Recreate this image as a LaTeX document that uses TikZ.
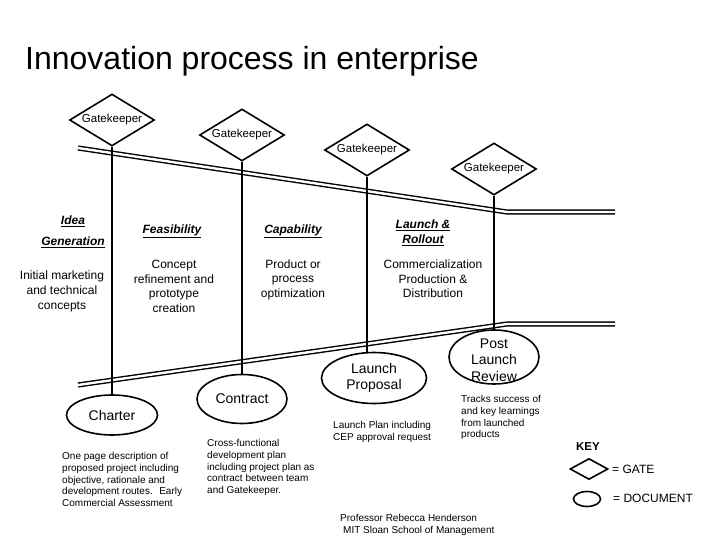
\documentclass[tikz,border=0pt]{standalone}
\usepackage{fontspec}
\setmainfont{Liberation Sans}
\usetikzlibrary{shapes.geometric}

\begin{document}
\begin{tikzpicture}[x=1pt, y=-1pt,
    gatebox/.style={diamond, draw, line width=1.6pt, inner sep=0pt, shape aspect=1.65, minimum width=85pt, minimum height=52pt, font=\fontsize{11.5}{13}\selectfont},
    docbox/.style={ellipse, draw, line width=1.6pt, inner sep=0pt, font=\fontsize{14}{16.5}\selectfont, align=center},
    phasetext/.style={font=\bfseries\itshape\fontsize{12}{15}\selectfont, align=center},
    steptext/.style={font=\fontsize{12}{14.5}\selectfont, align=center},
    notetext/.style={font=\fontsize{10}{11.8}\selectfont, align=left, anchor=north west, inner sep=0pt},
    rail/.style={line width=1.4pt, double distance=2.4pt},
    stem/.style={line width=1.6pt}]
    \useasboundingbox (0,0) rectangle (720,540);

    % Title
    \node (title) [anchor=base west, inner sep=0pt, font=\fontsize{32}{38}\selectfont] at (25,70) {Innovation process in enterprise};

    % Rails
    \coordinate (t0) at (78,148);
    \coordinate (t1) at (507,212);
    \coordinate (t2) at (615,212);
    \coordinate (b0) at (78,385);
    \coordinate (b1) at (507,324);
    \coordinate (b2) at (615,324);
    \draw[rail] (t0) -- (t1) -- (t2);
    \draw[rail] (b0) -- (b1) -- (b2);

    % Gates
    \node (gk1) [gatebox] at (112,120) {Gatekeeper};
    \node (gk2) [gatebox] at (242,135) {Gatekeeper};
    \node (gk3) [gatebox] at (367,150) {Gatekeeper};
    \node (gk4) [gatebox] at (494,169) {Gatekeeper};

    % Documents
    \node (charter) [docbox, minimum width=91pt, minimum height=40pt] at (112,415) {Charter};
    \node (contract) [docbox, minimum width=90pt, minimum height=49pt] at (242,399) {Contract};
    \node (proposal) [docbox, minimum width=105pt, minimum height=51pt] at (374,378) {Launch\\Proposal};
    \node (review) [docbox, minimum width=90pt, minimum height=54pt] at (494,357) {};
    \node (reviewtext) [align=center, inner sep=0pt, font=\fontsize{14}{16.5}\selectfont] at ([yshift=-3pt]review.center) {Post\\Launch\\Review};

    % Stems
    \draw[stem] (gk1.south) -- (charter.north);
    \draw[stem] (gk2.south) -- (contract.north);
    \draw[stem] (gk3.south) -- (gk3.south |- proposal.north);
    \draw[stem] (gk4.south) -- (review.north);

    % Phases
    \node (idea) [phasetext, font=\bfseries\itshape\fontsize{12}{21}\selectfont] at (73,231.5) {\underline{Idea}\\\underline{Generation}};
    \node (feas) [phasetext] at (172,231) {\underline{Feasibility}};
    \node (capab) [phasetext] at (293,231) {\underline{Capability}};
    \node (launch) [phasetext] at (423,232.5) {\underline{Launch \&}\\\underline{Rollout}};

    \node (ideatext) [steptext, font=\fontsize{12}{15}\selectfont] at (62,291) {Initial marketing\\and technical\\concepts};
    \node (feastext) [steptext] at (174,286.5) {Concept\\refinement and\\prototype\\creation};
    \node (capabtext) [steptext] at (293,279.5) {Product or\\process\\optimization};
    \node (launchtext) [steptext] at (433,279) {Commercialization\\Production \&\\Distribution};

    % Notes
    \node (charternote) [notetext] at (62,452) {One page description of\\proposed project including\\objective, rationale and\\development routes.~ Early\\Commercial Assessment};
    \node (contractnote) [notetext] at (207,439) {Cross-functional\\development plan\\including project plan as\\contract between team\\and Gatekeeper.};
    \node (proposalnote) [notetext] at (333,421) {Launch Plan including\\CEP approval request};
    \node (reviewnote) [notetext] at (461,395) {Tracks success of\\and key learnings\\from launched\\products};
    \node (credit) [notetext] at (340,514) {Professor Rebecca Henderson\\\hspace*{3pt}MIT Sloan School of Management};

    % Key
    \node (keytitle) [font=\bfseries\fontsize{11.5}{13}\selectfont] at (588,447) {KEY};
    \node (keygate) [gatebox, minimum width=38pt, minimum height=21pt] at (589,469) {};
    \node (keygatetext) [anchor=west, inner sep=0pt, font=\fontsize{12}{14}\selectfont] at (612,469) {= GATE};
    \node (keydoc) [docbox, minimum width=27pt, minimum height=15pt] at (587,499) {};
    \node (keydoctext) [anchor=west, inner sep=0pt, font=\fontsize{12}{14}\selectfont] at (613,498) {= DOCUMENT};
\end{tikzpicture}
\end{document}
